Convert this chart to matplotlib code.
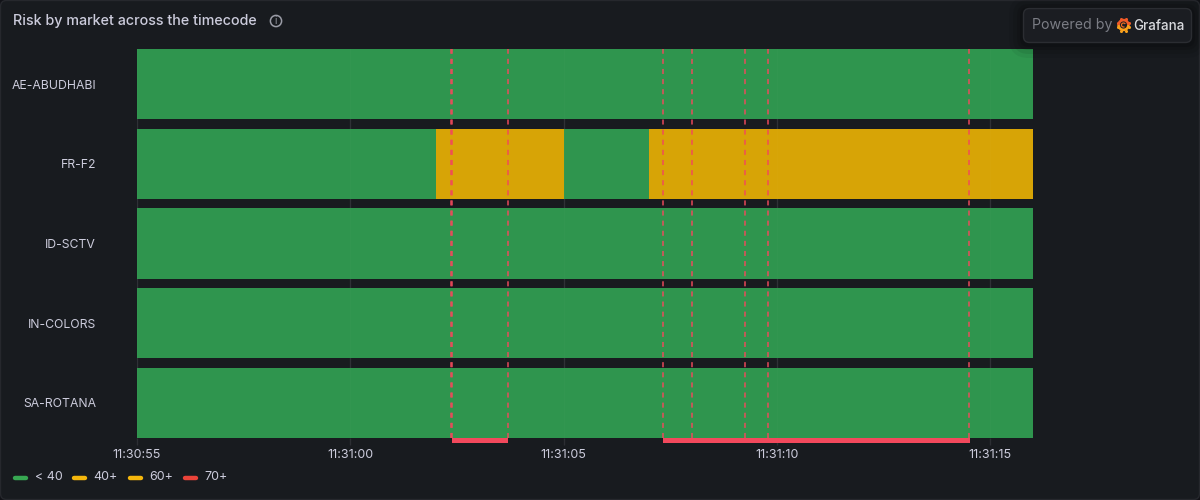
# Risk by market across the timecode - grafana state timeline, dark theme
import matplotlib
matplotlib.use('Agg')
import matplotlib.pyplot as plt
import numpy as np
from matplotlib.patches import FancyBboxPatch, Wedge, Circle
from matplotlib.ticker import FixedLocator, FixedFormatter

plt.rcParams['font.family'] = ['Inter', 'DejaVu Sans']

# seconds after 11:30:55
markets = ['AE-ABUDHABI', 'FR-F2', 'ID-SCTV', 'IN-COLORS', 'SA-ROTANA']
time_end = 21.0
tick_seconds = [0, 5, 10, 15, 20]
tick_labels = ['11:30:55', '11:31:00', '11:31:05', '11:31:10', '11:31:15']

# (start, end, state) per market
timeline = {
    'AE-ABUDHABI': [(0, 21, 'low')],
    'FR-F2': [(0, 7, 'low'), (7, 10, 'mid'), (10, 12, 'low'), (12, 21, 'mid')],
    'ID-SCTV': [(0, 21, 'low')],
    'IN-COLORS': [(0, 21, 'low')],
    'SA-ROTANA': [(0, 21, 'low')],
}
annotation_times = [7.36, 7.39, 8.7, 12.33, 13.01, 14.25, 14.78, 19.5]
annotation_regions = [(7.39, 8.7), (12.33, 19.52)]
legend_labels = ['< 40', '40+', '60+', '70+']

BG = '#181b1f'
TEXT = '#ccccdc'
state_colors = {'low': '#2f954e', 'mid': '#d7a406'}
legend_colors = ['#37a852', '#f5b70c', '#f5b70c', '#ea4339']
legend_x = [13, 72, 128, 183]
ANNOT = '#f2495c'

fig = plt.figure(figsize=(12, 5), dpi=100, facecolor='#111217')

# pixel overlay for the panel chrome
bg = fig.add_axes([0, 0, 1, 1], zorder=0)
bg.set_xlim(0, 1200)
bg.set_ylim(500, 0)
bg.axis('off')
bg.add_patch(FancyBboxPatch((0.5, 0.5), 1199, 499, boxstyle='round,pad=0,rounding_size=6',
                            fc=BG, ec='#26282d', lw=1))

# chart
ax = fig.add_axes([137 / 1200, 1 - 438 / 500, 896 / 1200, 389 / 500], zorder=1)
ax.set_facecolor('none')
ax.set_xlim(0, time_end)
ax.set_ylim(4.439, -0.439)
for i, m in enumerate(markets):
    for start, end, state in timeline[m]:
        ax.barh(i, end - start, left=start, height=0.878, color=state_colors[state], lw=0, zorder=2)

for t in annotation_times:
    ax.axvline(t, color=ANNOT, lw=1.4, alpha=0.75, dashes=(2.6, 2.6), zorder=4)

ax.xaxis.set_major_locator(FixedLocator(tick_seconds))
ax.xaxis.set_major_formatter(FixedFormatter(tick_labels))
ax.set_yticks(range(len(markets)))
ax.set_yticklabels(markets)
ax.tick_params(axis='x', length=5, width=1, color='#2c2e33', labelsize=9, labelcolor=TEXT, pad=3)
ax.tick_params(axis='y', length=0, labelsize=8.8, labelcolor=TEXT, pad=29.5)
ax.grid(axis='x', color='#2c2e33', lw=1, zorder=1)
ax.set_axisbelow(True)
for t in tick_seconds:
    ax.axvline(t, color='white', alpha=0.015, lw=1, zorder=3)
for s in ax.spines.values():
    s.set_visible(False)

# annotation region bars under the plot, 5px tall
for start, end in annotation_regions:
    ax.barh(4.439 + 2.5 / 79.75, end - start, left=start, height=5 / 79.75, color=ANNOT, lw=0,
            clip_on=False, zorder=5)
ax.set_ylim(4.439, -0.439)

# title and info icon
over = fig.add_axes([0, 0, 1, 1], zorder=2)
over.set_xlim(0, 1200)
over.set_ylim(500, 0)
over.axis('off')
over.text(13, 21, 'Risk by market across the timecode', color=TEXT, fontsize=10.3,
          fontweight='medium', va='center', ha='left')
over.add_patch(Circle((276, 21), 5.6, fc='none', ec='#9a9ca6', lw=1.1))
over.text(276, 21, 'i', color='#9a9ca6', fontsize=7, va='center', ha='center')

# legend
for x, lab, col in zip(legend_x, legend_labels, legend_colors):
    over.plot([x + 1.5, x + 12.5], [477.5, 477.5], color=col, lw=3.2, solid_capstyle='round')
    over.text(x + 22 - (0 if lab.startswith('<') else 1), 477, lab, color=TEXT, fontsize=9,
              va='center', ha='left')

# badge shadow then badge
for pad, a in zip([14, 10, 6, 3], [0.05, 0.07, 0.09, 0.12]):
    over.add_patch(FancyBboxPatch((1023 - pad, 8 - pad + 2), 169 + 2 * pad, 34 + 2 * pad,
                                  boxstyle='round,pad=0,rounding_size=%d' % (6 + pad),
                                  fc='black', ec='none', alpha=a))
over.add_patch(FancyBboxPatch((1023.5, 8.5), 168, 34, boxstyle='round,pad=0,rounding_size=6',
                              fc='#1b1d22', ec='#2b2d32', lw=1))
over.text(1032, 25, 'Powered by', color='#7b7d85', fontsize=10.2, va='center', ha='left')

# grafana logo, ring coloured from red at the top to yellow at the bottom
logo_x, logo_y = 1123.5, 25
for ang in np.arange(0, 360, 45) + 22:
    col = '#f9a01b' if np.sin(np.radians(ang)) > 0 else '#f05a28'
    over.plot(logo_x + 6.2 * np.cos(np.radians(ang)), logo_y + 6.2 * np.sin(np.radians(ang)),
              'o', ms=2.2, color=col, mew=0)
over.add_patch(Wedge((logo_x, logo_y), 6.2, 180, 360, width=2.6, fc='#f05a28', ec='none'))
over.add_patch(Wedge((logo_x, logo_y), 6.2, 0, 180, width=2.6, fc='#f9a01b', ec='none'))
over.add_patch(Wedge((logo_x, logo_y), 2.6, 60, 330, width=1.2, fc='#f26d21', ec='none'))
over.text(1133, 25.5, 'Grafana', color='#d8d9dd', fontsize=9.7, fontweight='medium',
          va='center', ha='left')

fig.savefig('out.png', dpi=100, facecolor=fig.get_facecolor())
